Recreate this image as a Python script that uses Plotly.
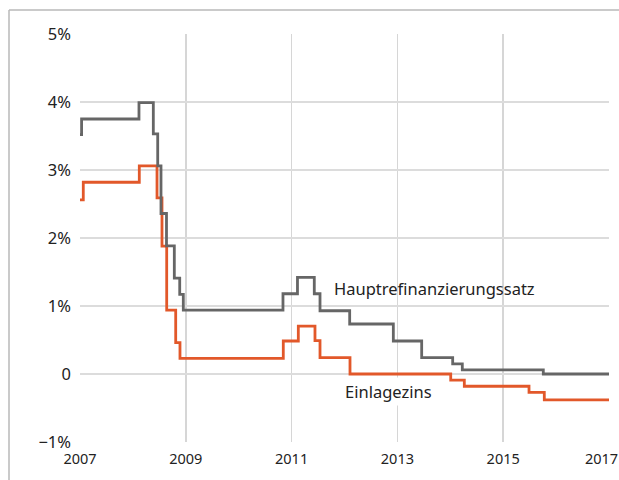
import plotly.graph_objects as go

# Hauptrefinanzierungssatz (main refinancing rate), step changes (decimal year, %)
mro_years = [2007.00, 2007.03, 2008.115, 2008.386, 2008.469, 2008.531, 2008.635,
             2008.783, 2008.885, 2008.953, 2010.837, 2011.111, 2011.429, 2011.537,
             2012.098, 2012.923, 2013.459, 2014.045, 2014.227, 2015.758, 2017.0]
mro_values = [3.52, 3.75, 3.99, 3.53, 3.06, 2.36, 1.885,
              1.41, 1.17, 0.94, 1.18, 1.42, 1.18, 0.93,
              0.735, 0.485, 0.24, 0.15, 0.06, 0.0, 0.0]

# Einlagezins (deposit rate)
dep_years = [2007.00, 2007.062, 2008.121, 2008.456, 2008.55, 2008.639, 2008.809,
             2008.89, 2010.843, 2011.127, 2011.442, 2011.537, 2012.104, 2014.008,
             2014.265, 2015.488, 2015.777, 2017.0]
dep_values = [2.56, 2.82, 3.06, 2.59, 1.88, 0.94, 0.46,
              0.23, 0.485, 0.705, 0.49, 0.24, 0.0, -0.09,
              -0.18, -0.27, -0.38, -0.38]

x_ticks = [2007, 2009, 2011, 2013, 2015, 2017]
x_labels = ["2007", "2009", "2011", "2013", "2015", "2017\u00a0\u00a0\u00a0\u00a0"]
y_ticks = [-1, 0, 1, 2, 3, 4, 5]
y_labels = ["\u22121%", "0", "1%", "2%", "3%", "4%", "5%"]

GRAY = "#666666"
ORANGE = "#E2582A"
FONT = "Noto Sans"

W, H = 619, 480
L, T = 80, 34
PW, PH = 529, 407.7

fig = go.Figure()
fig.add_trace(go.Scatter(x=dep_years, y=dep_values, mode="lines",
                         line=dict(color=ORANGE, width=2.8, shape="hv"),
                         name="Einlagezins", hoverinfo="skip"))
fig.add_trace(go.Scatter(x=mro_years, y=mro_values, mode="lines",
                         line=dict(color=GRAY, width=2.8, shape="hv"),
                         name="Hauptrefinanzierungssatz", hoverinfo="skip"))

fig.add_annotation(x=2011.77, y=1.26, text="Hauptrefinanzierungssatz",
                   showarrow=False, xanchor="left", yanchor="middle",
                   font=dict(family=FONT, size=16.5, color="#222222"))
fig.add_annotation(x=2011.96, y=-0.25, text="Einlagezins",
                   showarrow=False, xanchor="left", yanchor="middle",
                   bgcolor="white", borderpad=2,
                   font=dict(family=FONT, size=16.5, color="#222222"))

# outer frame (page x=9, y=10): left and top edges
fx0 = (9 - L) / PW
fy1 = (T + PH - 10) / PH
fig.add_shape(type="line", xref="paper", yref="paper",
              x0=fx0, x1=fx0, y0=-0.3, y1=fy1,
              line=dict(color="#b8b8b8", width=1.5), layer="above")
fig.add_shape(type="line", xref="paper", yref="paper",
              x0=fx0, x1=1.2, y0=fy1, y1=fy1,
              line=dict(color="#b8b8b8", width=1.5), layer="above")

fig.update_layout(
    width=W, height=H,
    margin=dict(l=L, r=W - L - PW, t=T, b=H - T - PH, autoexpand=False),
    paper_bgcolor="white", plot_bgcolor="white",
    showlegend=False,
    font=dict(family=FONT, size=15, color="#222222"),
)
fig.update_xaxes(range=[2007, 2017], tickvals=x_ticks, ticktext=x_labels,
                 showgrid=True, gridcolor="#d6d6d6", gridwidth=1.5,
                 zeroline=False, showline=False, ticks="", ticklabelstandoff=6,
                 ticklabeloverflow="allow",
                 tickfont=dict(family=FONT, size=14.5, color="#222222"))
fig.update_yaxes(range=[-1, 5], tickvals=y_ticks, ticktext=y_labels,
                 showgrid=True, gridcolor="#dcdcdc", gridwidth=1.8,
                 zeroline=False, showline=False, ticks="", ticklabelstandoff=8,
                 tickfont=dict(family=FONT, size=16.5, color="#222222"))

fig.write_html("out.html",
               config={"displayModeBar": False, "staticPlot": True},
               post_script="document.body.style.margin='0';"
                           "document.body.style.overflow='hidden';")
